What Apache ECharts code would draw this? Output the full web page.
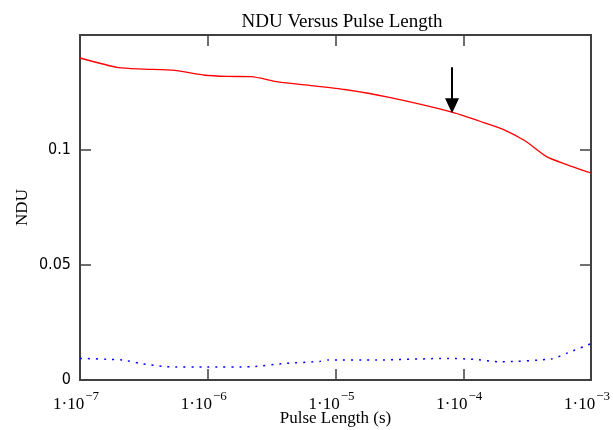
<!DOCTYPE html>
<html>
<head>
<meta charset="utf-8">
<script src="https://cdn.jsdelivr.net/npm/echarts@6/dist/echarts.min.js"></script>
<style>
html,body{margin:0;padding:0;background:#fff;}
#c{width:613px;height:430px;}
</style>
</head>
<body>
<div id="c"></div>
<script>
var xRed = [1e-7, 2e-7, 3.2e-7, 5.5e-7, 9.5e-7, 1.44e-6, 2.19e-6, 3.55e-6, 6.43e-6, 1.18e-5, 2.58e-5, 8.17e-5, 1.35e-4, 2.05e-4, 3.04e-4, 4.53e-4, 6.2e-4, 1e-3];
var yRed = [0.1400, 0.1358, 0.1352, 0.1346, 0.1325, 0.1320, 0.1319, 0.1296, 0.1280, 0.1263, 0.1230, 0.1165, 0.1125, 0.1090, 0.1040, 0.0970, 0.0940, 0.0900];
var xBlue = [1e-7, 2.15e-7, 2.96e-7, 4.63e-7, 9.9e-7, 2.2e-6, 4.03e-6, 7.6e-6, 8.7e-6, 2.1e-5, 7.56e-5, 1.21e-4, 1.96e-4, 4.94e-4, 6.58e-4, 1e-3];
var yBlue = [0.0094, 0.0087, 0.0072, 0.0058, 0.0056, 0.0058, 0.0072, 0.0081, 0.0087, 0.0087, 0.0094, 0.0090, 0.0079, 0.0092, 0.0118, 0.0158];
var xLabelValues = [1e-7, 1e-6, 1e-5, 1e-4, 1e-3];
var xTickValues = [1e-6, 1e-5, 1e-4];
var yLabelValues = [0, 0.05, 0.1];
var yTickValues = [0.05, 0.1];
var arrowX = 8.17e-5;
var arrowFrom = 0.136;
var arrowTo = 0.1192;

function pairs(xs, ys){ return xs.map(function(x,i){ return [x, ys[i]]; }); }

var chart = echarts.init(document.getElementById('c'), null, {renderer:'canvas'});
var serif = '"Liberation Serif", "DejaVu Serif", serif';
var narrow = '"Liberation Sans Narrow", "DejaVu Sans Condensed", "Liberation Sans", sans-serif';
var noLine = {show:false, onZero:false};
function tick(vals){ return {show:true, inside:true, length:11, customValues:vals, lineStyle:{color:'#404040', width:1.5}}; }

chart.setOption({
  animation:false,
  backgroundColor:'#fff',
  title:{text:'NDU Versus Pulse Length', left:337, textAlign:'center', top:8,
    textStyle:{fontFamily:serif, fontWeight:'normal', fontSize:19, color:'#000'}},
  grid:{left:80, top:35, right:22, bottom:50, containLabel:false, outerBoundsMode:'none',
    show:true, borderColor:'#404040', borderWidth:2, backgroundColor:'transparent'},
  xAxis:[{
    type:'log', logBase:10, min:1e-7, max:1e-3,
    position:'bottom',
    axisLine:noLine, axisTick:tick(xTickValues), splitLine:{show:false}, minorTick:{show:false},
    name:'Pulse Length (s)', nameLocation:'middle', nameGap:30, nameMoveOverlap:false,
    nameTextStyle:{fontFamily:serif, fontSize:17, color:'#000'},
    axisLabel:{
      margin:8,
      customValues:xLabelValues,
      formatter:function(v){
        var e = Math.round(Math.log10(v));
        return '{b|1\u00b710}{s|\u2212' + Math.abs(e) + '}';
      },
      rich:{
        b:{fontFamily:serif, fontSize:17, color:'#000', padding:[8,0,0,0]},
        s:{fontFamily:serif, fontSize:13, color:'#000', padding:[0,8,8,1]}
      }
    }
  },{
    type:'log', logBase:10, min:1e-7, max:1e-3, position:'top',
    axisLine:noLine, axisTick:tick(xTickValues), axisLabel:{show:false}, splitLine:{show:false}
  }],
  yAxis:[{
    type:'value', min:0, max:0.15, interval:0.05,
    axisLine:noLine, axisTick:tick(yTickValues), splitLine:{show:false},
    name:'NDU', nameLocation:'middle', nameGap:49, nameRotate:90, nameMoveOverlap:false,
    nameTextStyle:{fontFamily:serif, fontSize:17, color:'#000'},
    axisLabel:{
      margin:9, fontFamily:narrow, fontSize:16, color:'#000',
      customValues:yLabelValues,
      formatter:function(v){ return String(v); }
    }
  },{
    type:'value', min:0, max:0.15, interval:0.05, position:'right',
    axisLine:noLine, axisTick:tick(yTickValues), axisLabel:{show:false}, splitLine:{show:false}
  }],
  series:[{
    type:'line', data:pairs(xRed, yRed), showSymbol:false, smooth:0.2,
    lineStyle:{color:'#ff0000', width:1.3},
    markLine:{
      silent:true, animation:false,
      symbol:['none','triangle'], symbolSize:[14,15],
      lineStyle:{color:'#000', width:2, type:'solid'},
      label:{show:false},
      data:[[{coord:[arrowX, arrowFrom]},{coord:[arrowX, arrowTo]}]]
    }
  },{
    type:'line', data:pairs(xBlue, yBlue), showSymbol:false, smooth:0.2,
    lineStyle:{color:'#0000ff', width:1.5, type:[2,6]}
  }]
});
</script>
</body>
</html>
